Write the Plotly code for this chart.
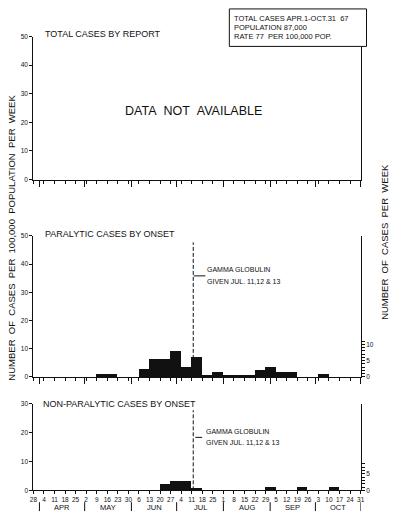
import plotly.graph_objects as go
from datetime import date

W, H = 395, 518
POPULATION = 87000

# ---------------- data ----------------
week_labels = ["28", "4", "11", "18", "25", "2", "9", "16", "23", "30", "6", "13", "20", "27",
               "4", "11", "18", "25", "1", "8", "15", "22", "29", "5", "12", "19", "26", "3",
               "10", "17", "24", "31"]
first_week = (3, 28)
month_names = ["APR", "MAY", "JUN", "JUL", "AUG", "SEP", "OCT"]
month_bounds = [(4, 1), (5, 1), (6, 1), (7, 1), (8, 1), (9, 1), (10, 1), (10, 31)]
gamma_day = (7, 12)

# rate per 100,000 population per week (one value per week starting Mar 28)
paralytic_rate = [0, 0, 0, 0, 0, 0, 1.15, 1.15, 0, 0, 3.0, 6.3, 6.3, 9.4, 3.7, 7.1,
                  0.9, 1.7, 0.9, 0.9, 0.9, 2.6, 3.6, 1.9, 1.9, 0, 0, 1.0, 0, 0, 0]
nonparalytic_rate = [0, 0, 0, 0, 0, 0, 0, 0, 0, 0, 0, 0, 2.3, 3.4, 3.4, 0.9,
                     0, 0, 0, 0, 0, 0, 1.15, 0, 0, 1.15, 0, 0, 1.15, 0, 0]

top_yticks = [0, 10, 20, 30, 40, 50]
bottom_yticks = [0, 10, 20, 30]
mid_case_ticks = list(range(0, 12))
bot_case_ticks = list(range(0, 9))

box_lines = ["TOTAL CASES APR.1-OCT.31  67", "POPULATION 87,000", "RATE 77  PER 100,000 POP."]


def wk(md):
    d0 = date(2001, first_week[0], first_week[1])
    return (date(2001, md[0], md[1]) - d0).days / 7.0


bounds_w = [wk(m) for m in month_bounds]
month_mid = [(bounds_w[i] + bounds_w[i + 1]) / 2 for i in range(len(month_names))]
gx = wk(gamma_day)
n_weeks = len(week_labels) - 1
cases_per_rate = POPULATION / 100000.0

# ---------------- layout helpers ----------------
def px(x):
    return x / W


def py(y):
    return 1 - y / H


XD = [px(30), px(364)]
D_TOP = [py(178), py(33)]
D_MID = [py(378), py(235)]
D_BOT = [py(493), py(405)]

FONT = "Liberation Sans, Arial, sans-serif"
BLK = "#111111"

fig = go.Figure()

centers = [i + 0.5 for i in range(n_weeks)]
fig.add_trace(go.Bar(x=centers, y=paralytic_rate, width=1.0, xaxis="x2", yaxis="y2",
                     marker=dict(color=BLK, line=dict(width=0)), hoverinfo="skip"))
fig.add_trace(go.Bar(x=centers, y=nonparalytic_rate, width=1.0, xaxis="x3", yaxis="y3",
                     marker=dict(color=BLK, line=dict(width=0)), hoverinfo="skip"))
# invisible anchors so every axis is drawn
for xa, ya in [("x", "y"), ("x2", "y4"), ("x3", "y5")]:
    fig.add_trace(go.Scatter(x=[0], y=[0], xaxis=xa, yaxis=ya, mode="markers",
                             marker=dict(opacity=0), hoverinfo="skip"))

tickfont = dict(family=FONT, size=6.5, color=BLK)


def xax(domain_anchor, labels):
    d = dict(domain=XD, anchor=domain_anchor, range=[0, n_weeks], showline=True, linecolor=BLK,
             linewidth=1, showgrid=False, zeroline=False, fixedrange=True, ticks="outside",
             tickcolor=BLK, tickwidth=1)
    if labels:
        d.update(tickmode="array", tickvals=list(range(n_weeks + 1)), ticktext=week_labels,
                 ticklen=3, tickfont=tickfont, tickangle=0)
    else:
        d.update(tickmode="array", tickvals=bounds_w, ticklen=6, showticklabels=False,
                 minor=dict(tickmode="array", tickvals=list(range(n_weeks + 1)), ticklen=3,
                            ticks="outside", tickcolor=BLK, tickwidth=1))
    return d


def yax(domain, anchor, rng, tv, mirror=False):
    return dict(domain=domain, anchor=anchor, range=rng, tickmode="array", tickvals=tv,
                ticks="outside", ticklen=3, tickcolor=BLK, tickfont=tickfont, showline=True,
                linecolor=BLK, linewidth=1, mirror=mirror, showgrid=False, zeroline=False,
                fixedrange=True)


def yright(overlay, anchor, rng, tv, labeled):
    return dict(overlaying=overlay, anchor=anchor, side="right", range=rng, tickmode="array",
                tickvals=tv, ticktext=[str(v) if v in labeled else "" for v in tv],
                ticks="outside", ticklen=3, tickcolor=BLK, tickfont=tickfont, showline=True,
                linecolor=BLK, linewidth=1.4, showgrid=False, zeroline=False, fixedrange=True)


fig.update_layout(
    width=W, height=H, autosize=False, margin=dict(l=0, r=0, t=0, b=0),
    paper_bgcolor="white", plot_bgcolor="white", showlegend=False, bargap=0,
    xaxis=xax("y", False),
    yaxis=yax(D_TOP, "x", [0, 50], top_yticks, mirror=True),
    xaxis2=xax("y2", False),
    yaxis2=yax(D_MID, "x2", [0, 50], top_yticks),
    xaxis3=xax("y3", True),
    yaxis3=yax(D_BOT, "x3", [0, 30], bottom_yticks),
    yaxis4=yright("y2", "x2", [0, 50 * cases_per_rate], mid_case_ticks, [0, 5, 10]),
    yaxis5=yright("y3", "x3", [0, 30 * cases_per_rate], bot_case_ticks, [0, 5]),
)
fig.layout.yaxis.linewidth = 1.4

shapes = []
# info box
shapes.append(dict(type="rect", xref="paper", yref="paper", x0=px(230), x1=px(370),
                   y0=py(43), y1=py(5), line=dict(color=BLK, width=1), fillcolor="white",
                   layer="above"))
# gamma globulin dashed lines + connectors
for xa, ya, ytop, yconn, c0, c1 in [("x2", "y2", 47.7, 35.8, 0.05, 1.15),
                                     ("x3", "y3", 27.7, 18.3, 0.2, 0.85)]:
    shapes.append(dict(type="line", xref=xa, yref=ya, x0=gx, x1=gx, y0=0, y1=ytop,
                       line=dict(color=BLK, width=1, dash="4px,2px"), layer="below"))
    shapes.append(dict(type="line", xref=xa, yref=ya, x0=gx + c0, x1=gx + c1, y0=yconn,
                       y1=yconn, line=dict(color=BLK, width=1)))
# month markers under bottom axis
for b in bounds_w:
    shapes.append(dict(type="line", xref="x3", yref="paper", x0=b, x1=b, y0=py(505),
                       y1=py(514), line=dict(color=BLK, width=1)))
fig.update_layout(shapes=shapes)

ann = []


def txt(x, y, s, size, xanchor="left", xref="paper", yref="paper", angle=0):
    ann.append(dict(x=x, y=y, xref=xref, yref=yref, text=s, showarrow=False,
                    xanchor=xanchor, yanchor="middle", textangle=angle,
                    font=dict(family=FONT, size=size, color=BLK)))


txt(px(40), py(30.5), "TOTAL CASES BY REPORT", 9)
txt(px(40), py(233), "PARALYTIC CASES BY ONSET", 9)
txt(px(38), py(405.5), "NON-PARALYTIC CASES BY ONSET", 9)
txt(px(193), py(108), "DATA&nbsp;&nbsp;NOT&nbsp;&nbsp;AVAILABLE", 12.5, xanchor="center")
for i, line in enumerate(box_lines):
    txt(px(233), py(15 + 9 * i), line.replace("  ", "&nbsp;&nbsp;"), 7.5)
for xa, ya, y1, y2, dx in [("x2", "y2", 38.0, 33.7, 1.1), ("x3", "y3", 20.4, 16.4, 1.0)]:
    txt(gx + dx, y1, "GAMMA GLOBULIN", 7, xref=xa, yref=ya)
    txt(gx + dx, y2, "GIVEN JUL. 11,12 &amp; 13", 7, xref=xa, yref=ya)
for name, m in zip(month_names, month_mid):
    ann.append(dict(x=m, y=py(510.5), xref="x3", yref="paper", text=name, showarrow=False,
                    xanchor="center", yanchor="middle",
                    font=dict(family=FONT, size=7.5, color=BLK)))
txt(px(8), py(237), "NUMBER&nbsp; OF&nbsp; CASES&nbsp; PER&nbsp; 100,000&nbsp; POPULATION&nbsp; PER&nbsp; WEEK",
    9.5, xanchor="center", angle=-90)
txt(px(389), py(241), "NUMBER&nbsp; OF&nbsp; CASES&nbsp; PER&nbsp; WEEK", 9.5, xanchor="center", angle=-90)
fig.update_layout(annotations=ann)

fig.write_html("out.html")
